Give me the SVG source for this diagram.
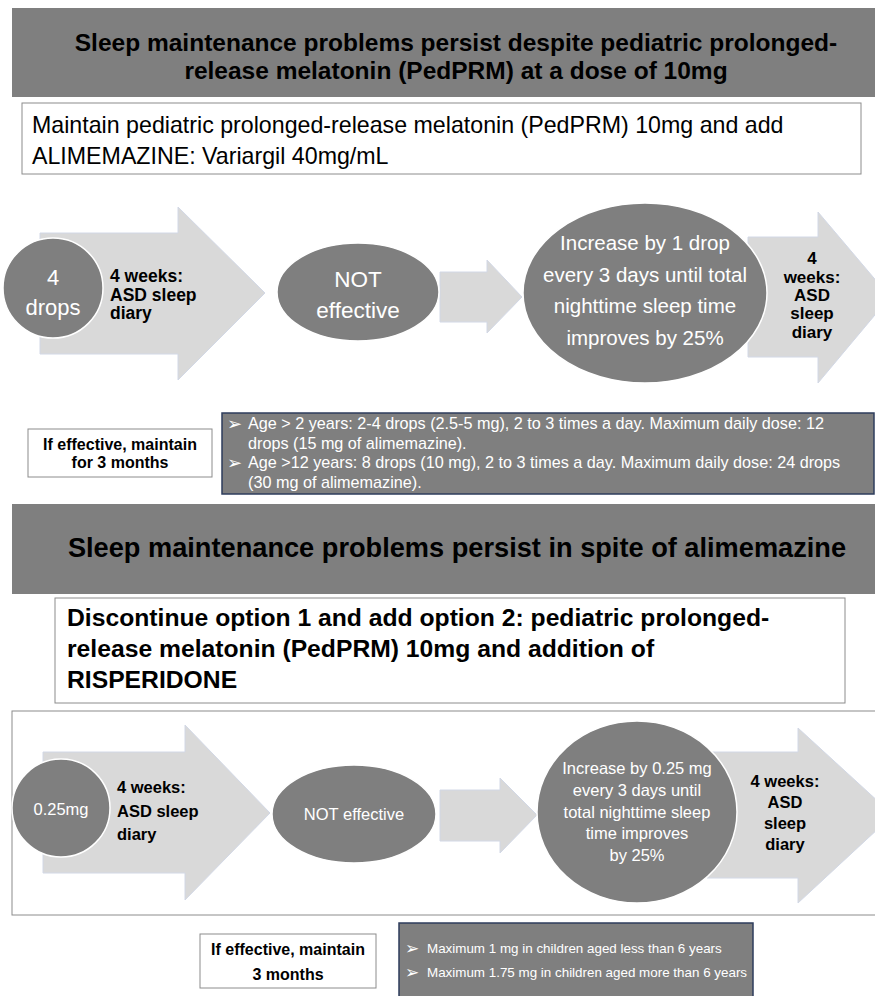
<svg xmlns="http://www.w3.org/2000/svg" width="875" height="996" viewBox="0 0 875 996">
<style>
text{font-family:"Liberation Sans",Arial,Helvetica,sans-serif}
.banner{fill:#7f7f7f}
.wbox{fill:#ffffff;stroke:#8c8c8c;stroke-width:1}
.dark{fill:#7f7f7f;stroke:#2e3d5c;stroke-width:1.5}
.blk{fill:#d9d9d9;stroke:#d2d8e6;stroke-width:1}
.node{fill:#7f7f7f;stroke:#ffffff;stroke-width:1.5}
.bt{font-weight:bold;fill:#000}
.wt{fill:#ffffff}
.c{text-anchor:middle}
.bul{font-family:"DejaVu Sans",sans-serif}
</style>
<rect width="875" height="996" fill="#ffffff"/>

<g id="banner1">
<rect class="banner" x="12" y="8" width="863" height="89"/>
<text class="bt c" x="456" y="51" font-size="24.5">Sleep maintenance problems persist despite pediatric prolonged-</text>
<text class="bt c" x="456" y="79" font-size="24.5">release melatonin (PedPRM) at a dose of 10mg</text>
</g>

<g id="option1">
<rect class="wbox" x="22" y="103" width="839" height="71"/>
<text x="32" y="133" font-size="23.2" fill="#000">Maintain pediatric prolonged-release melatonin (PedPRM) 10mg and add</text>
<text x="32" y="164" font-size="23.2" fill="#000">ALIMEMAZINE: Variargil 40mg/mL</text>
</g>

<g id="connectors">
<polygon class="blk" points="440,272 487,272 487,260 522,297 487,333 487,322 440,322"/>
<polygon class="blk" points="440,790 500,790 500,778 537,815 500,853 500,841 440,841"/>
</g>

<g id="r1-weeks">
<polygon class="blk" points="40,233 178,233 178,207 265,293 178,380 178,354 40,354"/>
<text class="bt" x="110" y="282" font-size="17.5">4 weeks:</text>
<text class="bt" x="110" y="300.5" font-size="17.5">ASD sleep</text>
<text class="bt" x="110" y="319" font-size="17.5">diary</text>
</g>

<g id="r1-dose">
<circle class="node" cx="53" cy="288" r="50"/>
<text class="wt c" x="53" y="285" font-size="22">4</text>
<text class="wt c" x="53" y="315" font-size="22">drops</text>
</g>

<g id="r1-noteff">
<ellipse class="node" cx="358" cy="292" rx="81" ry="49"/>
<text class="wt c" x="358" y="287" font-size="22.5">NOT</text>
<text class="wt c" x="358" y="318" font-size="22.5">effective</text>
</g>

<g id="r1-weeks2">
<polygon class="blk" points="748,237 818,237 818,212 890,297 818,383 818,357 748,357"/>
<text class="bt c" x="812" y="264" font-size="17">4</text>
<text class="bt c" x="812" y="283" font-size="17">weeks:</text>
<text class="bt c" x="812" y="301" font-size="17">ASD</text>
<text class="bt c" x="812" y="319" font-size="17">sleep</text>
<text class="bt c" x="812" y="338" font-size="17">diary</text>
</g>

<g id="r1-increase">
<ellipse class="node" cx="645" cy="293" rx="122" ry="90"/>
<text class="wt c" x="645" y="250" font-size="20.5">Increase by 1 drop</text>
<text class="wt c" x="645" y="281.5" font-size="20.5">every 3 days until total</text>
<text class="wt c" x="645" y="313" font-size="20.5">nighttime sleep time</text>
<text class="wt c" x="645" y="344.5" font-size="20.5">improves by 25%</text>
</g>

<g id="r1-maintain">
<rect class="wbox" x="28" y="429" width="184" height="48"/>
<text class="bt c" x="120" y="450" font-size="16">If effective, maintain</text>
<text class="bt c" x="120" y="468" font-size="16">for 3 months</text>
</g>

<g id="r1-doses">
<rect class="dark" x="222" y="413" width="652" height="81"/>
<text class="wt bul" x="227" y="429.5" font-size="18">➢</text>
<text class="wt" x="248" y="429" font-size="16.2">Age &gt; 2 years: 2-4 drops (2.5-5 mg), 2 to 3 times a day. Maximum daily dose: 12</text>
<text class="wt" x="248" y="448.5" font-size="16.2">drops (15 mg of alimemazine).</text>
<text class="wt bul" x="227" y="468.5" font-size="18">➢</text>
<text class="wt" x="248" y="468" font-size="16.2">Age &gt;12 years: 8 drops (10 mg), 2 to 3 times a day. Maximum daily dose: 24 drops</text>
<text class="wt" x="248" y="487.5" font-size="16.2">(30 mg of alimemazine).</text>
</g>

<g id="banner2">
<rect class="banner" x="12" y="504" width="863" height="90"/>
<text class="bt c" x="457" y="557" font-size="27.2">Sleep maintenance problems persist in spite of alimemazine</text>
</g>

<g id="option2">
<rect class="wbox" x="55" y="598" width="790" height="105"/>
<text class="bt" x="67" y="626" font-size="24.7">Discontinue option 1 and add option 2: pediatric prolonged-</text>
<text class="bt" x="67" y="657" font-size="24.7">release melatonin (PedPRM) 10mg and addition of</text>
<text class="bt" x="67" y="688" font-size="24.7">RISPERIDONE</text>
</g>

<g id="row2-frame">
<rect x="12" y="711" width="870" height="204" fill="none" stroke="#8c8c8c" stroke-width="1"/>
</g>

<g id="r2-weeks">
<polygon class="blk" points="43,752 185,752 185,725 270,813 185,900 185,873 43,873"/>
<text class="bt" x="117" y="793" font-size="16.5">4 weeks:</text>
<text class="bt" x="117" y="817" font-size="16.5">ASD sleep</text>
<text class="bt" x="117" y="840" font-size="16.5">diary</text>
</g>

<g id="r2-dose">
<circle class="node" cx="61" cy="808" r="49"/>
<text class="wt c" x="61" y="815" font-size="16.5">0.25mg</text>
</g>

<g id="r2-noteff">
<ellipse class="node" cx="354" cy="814" rx="82" ry="49"/>
<text class="wt c" x="354" y="820" font-size="16.5">NOT effective</text>
</g>

<g id="r2-weeks2">
<polygon class="blk" points="707,752 798,752 798,728 893,815 798,903 798,878 707,878"/>
<text class="bt c" x="785" y="787" font-size="16.5">4 weeks:</text>
<text class="bt c" x="785" y="808" font-size="16.5">ASD</text>
<text class="bt c" x="785" y="829" font-size="16.5">sleep</text>
<text class="bt c" x="785" y="850" font-size="16.5">diary</text>
</g>

<g id="r2-increase">
<ellipse class="node" cx="637" cy="812" rx="100" ry="91"/>
<text class="wt c" x="637" y="774" font-size="16.5">Increase by 0.25 mg</text>
<text class="wt c" x="637" y="796" font-size="16.5">every 3 days until</text>
<text class="wt c" x="637" y="818" font-size="16.5">total nighttime sleep</text>
<text class="wt c" x="637" y="839" font-size="16.5">time improves</text>
<text class="wt c" x="637" y="861" font-size="16.5">by 25%</text>
</g>

<g id="r2-maintain">
<rect class="wbox" x="200" y="934" width="176" height="54"/>
<text class="bt c" x="288" y="955" font-size="16">If effective, maintain</text>
<text class="bt c" x="288" y="980" font-size="16">3 months</text>
</g>

<g id="r2-doses">
<rect class="dark" x="399" y="923" width="354" height="75"/>
<text class="wt bul" x="405" y="953.5" font-size="17">➢</text>
<text class="wt" x="427" y="953" font-size="13.4">Maximum 1 mg in children aged less than 6 years</text>
<text class="wt bul" x="405" y="977.5" font-size="17">➢</text>
<text class="wt" x="427" y="977" font-size="13.4">Maximum 1.75 mg in children aged more than 6 years</text>
</g>
</svg>
